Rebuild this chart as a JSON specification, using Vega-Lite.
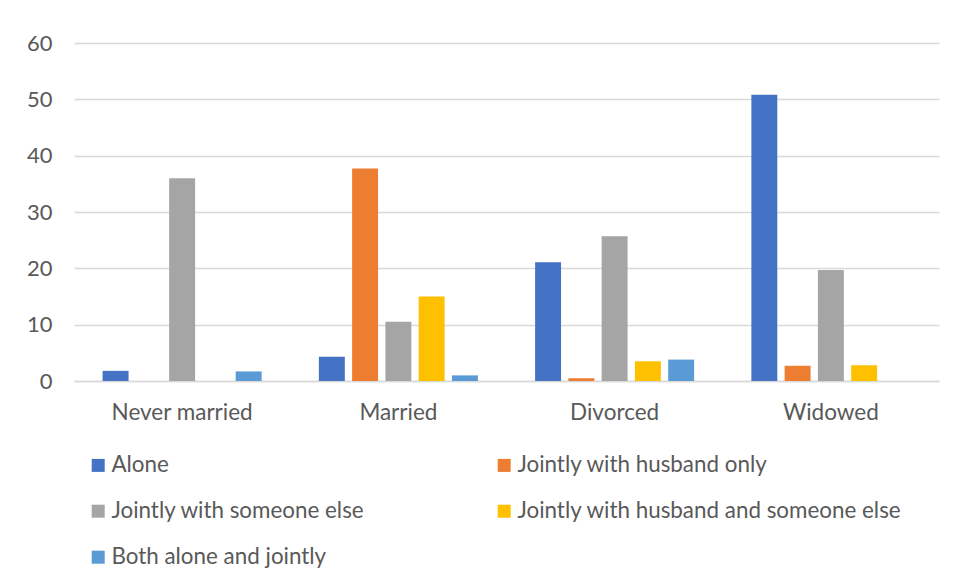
{
  "$schema": "https://vega.github.io/schema/vega-lite/v6.json",
  "width": 865,
  "height": 338,
  "autosize": {"type": "none"},
  "padding": {"left": 74, "top": 43, "right": 19, "bottom": 202},
  "background": "white",
  "config": {"view": {"stroke": null}, "font": "Lato"},
  "data": {
    "values": [
      {"status": "Never married", "type": "Alone", "value": 1.8},
      {"status": "Never married", "type": "Jointly with husband only", "value": 0},
      {"status": "Never married", "type": "Jointly with someone else", "value": 36.0},
      {"status": "Never married", "type": "Jointly with husband and someone else", "value": 0},
      {"status": "Never married", "type": "Both alone and jointly", "value": 1.7},
      {"status": "Married", "type": "Alone", "value": 4.3},
      {"status": "Married", "type": "Jointly with husband only", "value": 37.7},
      {"status": "Married", "type": "Jointly with someone else", "value": 10.5},
      {"status": "Married", "type": "Jointly with husband and someone else", "value": 15.0},
      {"status": "Married", "type": "Both alone and jointly", "value": 1.0},
      {"status": "Divorced", "type": "Alone", "value": 21.1},
      {"status": "Divorced", "type": "Jointly with husband only", "value": 0.5},
      {"status": "Divorced", "type": "Jointly with someone else", "value": 25.7},
      {"status": "Divorced", "type": "Jointly with husband and someone else", "value": 3.5},
      {"status": "Divorced", "type": "Both alone and jointly", "value": 3.8},
      {"status": "Widowed", "type": "Alone", "value": 50.8},
      {"status": "Widowed", "type": "Jointly with husband only", "value": 2.7},
      {"status": "Widowed", "type": "Jointly with someone else", "value": 19.7},
      {"status": "Widowed", "type": "Jointly with husband and someone else", "value": 2.8},
      {"status": "Widowed", "type": "Both alone and jointly", "value": 0}
    ]
  },
  "mark": {"type": "bar"},
  "encoding": {
    "x": {
      "field": "status",
      "type": "nominal",
      "sort": ["Never married", "Married", "Divorced", "Widowed"],
      "scale": {"paddingInner": 0, "paddingOuter": 0},
      "axis": {
        "title": null,
        "labelAngle": 0,
        "labelFontSize": 22.5,
        "labelColor": "#595959",
        "ticks": false,
        "domainColor": "#d9d9d9",
        "domainWidth": 1.5,
        "labelPadding": 20
      }
    },
    "xOffset": {
      "field": "type",
      "type": "nominal",
      "sort": ["Alone", "Jointly with husband only", "Jointly with someone else", "Jointly with husband and someone else", "Both alone and jointly"],
      "scale": {"paddingInner": 0.22, "paddingOuter": 0.86}
    },
    "y": {
      "field": "value",
      "type": "quantitative",
      "scale": {"domain": [0, 60]},
      "axis": {
        "title": null,
        "values": [0, 10, 20, 30, 40, 50, 60],
        "domain": false,
        "ticks": false,
        "labelPadding": 22,
        "labelFontSize": 22,
        "labelColor": "#595959",
        "gridColor": "#d9d9d9",
        "gridWidth": 1.5
      }
    },
    "color": {
      "field": "type",
      "type": "nominal",
      "scale": {
        "domain": ["Alone", "Jointly with someone else", "Both alone and jointly", "Jointly with husband only", "Jointly with husband and someone else"],
        "range": ["#4472c4", "#a5a5a5", "#5b9bd5", "#ed7d31", "#ffc000"]
      },
      "legend": {
        "orient": "none",
        "legendX": 13,
        "legendY": 411,
        "columns": 2,
        "title": null,
        "symbolType": "square",
        "symbolSize": 169,
        "symbolStrokeWidth": 0,
        "labelFontSize": 22.4,
        "labelColor": "#595959",
        "labelOffset": 2,
        "labelLimit": 500,
        "rowPadding": 23,
        "columnPadding": 128
      }
    }
  }
}
